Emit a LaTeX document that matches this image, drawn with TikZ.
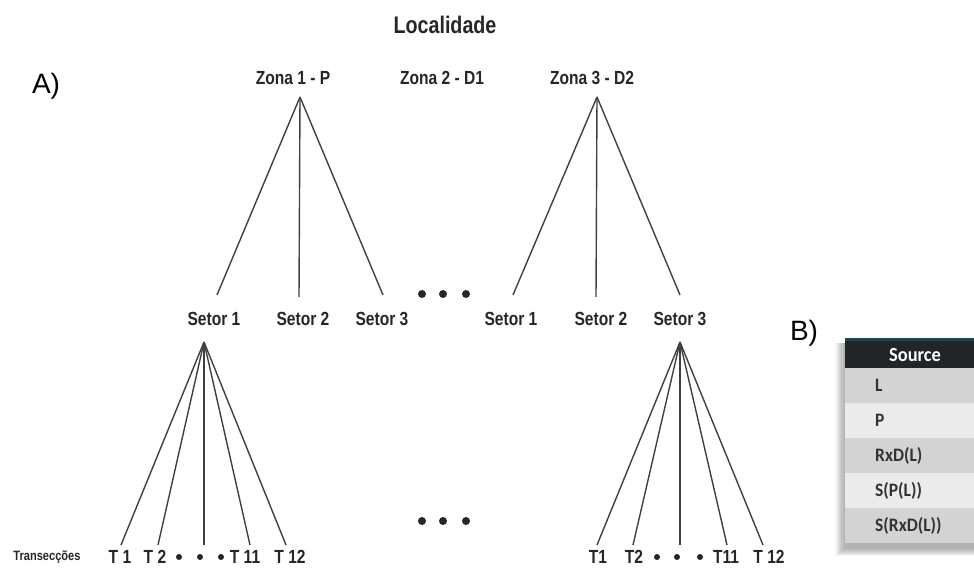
\documentclass[tikz,border=0pt]{standalone}
\usepackage{fontspec}
\setmainfont{Liberation Sans}
\newfontfamily\condb[FakeStretch=0.82]{Liberation Sans}
\newfontfamily\calib[FakeStretch=0.92]{Carlito}
\definecolor{hdrcol}{HTML}{212528}
\definecolor{hdrtop}{HTML}{1D4652}
\definecolor{rowdark}{HTML}{D3D3D3}
\definecolor{rowlight}{HTML}{EBEBEB}
\definecolor{rowtxt}{HTML}{333333}
\begin{document}
\begin{tikzpicture}[x=1pt,y=-1pt,
  ttl/.style={font=\condb\bfseries\fontsize{24}{24}\selectfont, text=black!85, inner sep=0pt},
  lbl/.style={font=\condb\bfseries\fontsize{19}{19}\selectfont, text=black!85, inner sep=0pt},
  smalllbl/.style={font=\condb\bfseries\fontsize{13.5}{13.5}\selectfont, text=black!85, inner sep=0pt},
  panel/.style={font=\fontsize{28}{28}\selectfont, text=black, inner sep=0pt},
  edge/.style={draw=black!75, line width=1.4pt},
  bigdot/.style={circle, fill=black!85, inner sep=0pt, minimum size=8pt},
  smalldot/.style={circle, fill=black!85, inner sep=0pt, minimum size=6pt},
  rowbox/.style={anchor=north west, minimum width=129pt, minimum height=35pt, inner sep=0pt, outer sep=0pt, draw=none},
  rowtext/.style={anchor=west, font=\calib\bfseries\fontsize{19}{19}\selectfont, text=rowtxt, inner sep=0pt}
]
\useasboundingbox (0,0) rectangle (974,569);

% titles
\node[ttl] (loc) at (445,25) {Localidade};
\node[panel] (pA) at (46,86) {A)};
\node[panel] (pB) at (804,333) {B)};

% zones
\node[lbl] (z1) at (293,78) {Zona 1 - P};
\node[lbl] (z2) at (442,78) {Zona 2 - D1};
\node[lbl] (z3) at (592,78) {Zona 3 - D2};
\coordinate (z1t) at (300,97);
\coordinate (z3t) at (597,97);

% sectors
\node[lbl] (s11) at (214,319) {Setor 1};
\node[lbl] (s12) at (303,319) {Setor 2};
\node[lbl] (s13) at (382,319) {Setor 3};
\node[lbl] (s31) at (511,319) {Setor 1};
\node[lbl] (s32) at (601,319) {Setor 2};
\node[lbl] (s33) at (680,319) {Setor 3};

\coordinate (e11) at (217,295);
\coordinate (e12) at (299,297);
\coordinate (e13) at (383,295);
\coordinate (e31) at (513,295);
\coordinate (e32) at (596,297);
\coordinate (e33) at (680,295);

\draw[edge] (z1t) -- (e11);
\draw[edge] (z1t) -- (e12);
\draw[edge] (z1t) -- (e13);
\draw[edge] (z3t) -- (e31);
\draw[edge] (z3t) -- (e32);
\draw[edge] (z3t) -- (e33);

% middle dots
\node[bigdot] (m1) at (422,294) {};
\node[bigdot] (m2) at (443,294) {};
\node[bigdot] (m3) at (466,294) {};
\node[bigdot] (b1) at (422,521) {};
\node[bigdot] (b2) at (443,521) {};
\node[bigdot] (b3) at (466,521) {};

% transects left
\coordinate (lt) at (204,342);
\coordinate (l1) at (121,545);
\coordinate (l2) at (158,545);
\coordinate (l3) at (204,545);
\coordinate (l4) at (250,545);
\coordinate (l5) at (286,545);
\foreach \p in {l1,l2,l3,l4,l5} \draw[edge] (lt) -- (\p);

\node[smalllbl] (tr) at (47,557) {Transecções};
\node[lbl] (lT1) at (120,557) {T 1};
\node[lbl] (lT2) at (155,557) {T 2};
\node[smalldot] (ld1) at (179,557) {};
\node[smalldot] (ld2) at (200,557) {};
\node[smalldot] (ld3) at (221,557) {};
\node[lbl] (lT11) at (245,557) {T 11};
\node[lbl] (lT12) at (290,557) {T 12};

% transects right
\coordinate (rt) at (680,342);
\coordinate (r1) at (597,545);
\coordinate (r2) at (633,545);
\coordinate (r3) at (680,545);
\coordinate (r4) at (727,545);
\coordinate (r5) at (763,545);
\foreach \p in {r1,r2,r3,r4,r5} \draw[edge] (rt) -- (\p);

\node[lbl] (rT1) at (598,557) {T1};
\node[lbl] (rT2) at (634,557) {T2};
\node[smalldot] (rd1) at (657,557) {};
\node[smalldot] (rd2) at (677,557) {};
\node[smalldot] (rd3) at (700,557) {};
\node[lbl] (rT11) at (726,557) {T11};
\node[lbl] (rT12) at (769,557) {T 12};

% table shadow
\foreach \i in {1,...,8}
  \fill[black, opacity=0.045] (845-\i*1.2,343) rectangle (974,548+\i);

% table
\node[rowbox, fill=hdrcol, minimum height=27pt] (hdr) at (845,341) {};
\fill[hdrtop] (hdr.north west) rectangle ([yshift=3pt]hdr.north east);
\node[anchor=center, font=\calib\bfseries\fontsize{20}{20}\selectfont, text=white, inner sep=0pt] (src) at (915,355) {Source};
\node[rowbox, fill=rowdark]  (rL)  at (845,368) {};
\node[rowbox, fill=rowlight] (rP)  at (845,403) {};
\node[rowbox, fill=rowdark]  (rR)  at (845,438) {};
\node[rowbox, fill=rowlight] (rS)  at (845,473) {};
\node[rowbox, fill=rowdark]  (rSR) at (845,508) {};
\node[rowtext] (tL)  at ([xshift=30pt]rL.west)  {L};
\node[rowtext] (tP)  at ([xshift=30pt]rP.west)  {P};
\node[rowtext] (tR)  at ([xshift=30pt]rR.west)  {RxD(L)};
\node[rowtext] (tS)  at ([xshift=30pt]rS.west)  {S(P(L))};
\node[rowtext] (tSR) at ([xshift=30pt]rSR.west) {S(RxD(L))};
\end{tikzpicture}
\end{document}
